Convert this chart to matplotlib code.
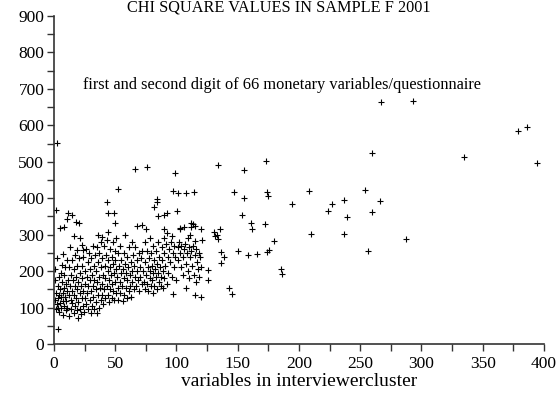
import matplotlib
matplotlib.use("Agg")
import matplotlib.pyplot as plt
from matplotlib.ticker import MultipleLocator

plt.rcParams['font.family'] = ['Liberation Serif', 'DejaVu Serif']

# chi square values per interviewer: (variables in cluster, chi square)
low_vars = [
    (1.6, 368), (3.6, 42), (4.9, 318), (8.5, 321), (2.7, 235), (6.3, 216), (9, 212), (7.7, 248),
    (11.7, 360), (10.4, 344), (0.5, 205), (1, 175), (1, 120), (1.5, 95), (2, 140), (2.5, 110),
    (3, 160), (3, 125), (3.5, 100), (4, 185), (4, 135), (4.5, 88), (5, 150), (5, 112), (5.5, 195),
    (6, 128), (6, 98), (6.5, 170), (7, 140), (7, 80), (7.5, 118), (8, 155), (8, 105), (8.5, 190),
    (9, 130), (9.5, 92), (10, 165), (10, 118), (10.5, 145), (11, 230), (11, 100), (11.5, 175),
    (12, 135), (12, 78),
]

mid_vars = [
    (14.5, 355), (18, 335), (20.8, 332), (16.7, 296), (21.3, 292), (13, 266), (19, 257), (22.7, 271),
    (24, 259), (12.5, 210), (13, 160), (13.5, 120), (14, 190), (14, 95), (14.5, 145), (15, 230),
    (15, 112), (15.5, 175), (16, 85), (16, 135), (16.5, 205), (17, 160), (17, 105), (17.5, 245),
    (18, 125), (18, 185), (18.5, 92), (19, 150), (19, 215), (19.5, 72), (20, 170), (20, 115),
    (20.5, 235), (21, 140), (21, 95), (21.5, 195), (22, 160), (22, 82), (22.5, 125), (23, 215),
    (23, 180), (23.5, 105), (24, 145), (24, 240), (24.5, 88), (25, 165), (25, 125), (25, 200),
    (35.8, 298), (39, 294), (26, 260), (26.5, 110), (27, 185), (27, 140), (27.5, 225), (28, 95),
    (28, 160), (28.5, 250), (29, 120), (29, 205), (29.5, 175), (30, 85), (30, 145), (30.5, 235),
    (31, 190), (31, 105), (31.5, 160), (32, 270), (32, 130), (32.5, 215), (33, 95), (33, 175),
    (33.5, 245), (34, 150), (34, 115), (34.5, 200), (35, 85), (35, 265), (35.5, 170), (36, 135),
    (36, 225), (36.5, 100), (37, 185), (37, 250), (37.5, 155), (38, 120), (38, 210), (38.5, 280),
    (39, 165), (39, 135), (39.5, 235), (40, 190), (40, 110),
]

upper_vars = [
    (43, 389), (48.6, 359), (43.7, 359), (50, 332), (44, 307), (40.5, 270), (41, 150), (41.5, 215),
    (42, 125), (42, 180), (42.5, 245), (43, 160), (43.5, 285), (44, 200), (44, 135), (44.5, 230),
    (45, 115), (45, 175), (45.5, 260), (46, 150), (46, 210), (46.5, 190), (47, 125), (47, 240),
    (47.5, 165), (48, 220), (48, 280), (48.5, 145), (49, 195), (49, 120), (49.5, 255), (50, 170),
    (50, 230), (50.5, 140), (51, 205), (51, 290), (51.5, 185), (52, 155), (52, 250), (52.5, 120),
    (53, 215), (53.5, 170), (54, 270), (54, 140), (54.5, 195), (55, 230),
    (55.5, 160), (56, 118), (56.5, 205), (57, 250), (57, 180), (57.5, 135), (58, 300), (58, 220),
    (58.5, 155), (59, 195), (59.5, 125), (60, 240), (60, 175), (60.5, 210), (61, 145), (61.5, 265),
    (62, 190), (62, 160), (62.5, 225), (63, 130), (63.5, 280), (64, 200), (64, 170), (64.5, 245),
    (65, 150), (65.5, 215), (66, 185), (66.5, 265), (67, 160), (67.5, 230), (68, 323), (68, 200),
    (68.5, 175), (69, 250), (69.5, 145), (70, 210), (70.5, 185), (71, 235), (71.5, 165), (72, 327),
    (72, 255),
]

high_vars = [
    (75.4, 316), (82, 377), (84, 389), (84.7, 350), (89.6, 353), (92, 359), (89.6, 316), (92.3, 305),
    (96.4, 295), (89.5, 290), (73, 200), (73.5, 170), (74, 280), (74, 150), (74.5, 225), (75, 190),
    (76, 255), (76, 165), (76.5, 210), (77, 145), (77.5, 235), (78, 180), (78, 290), (78.5, 200),
    (79, 160), (79.5, 250), (80, 215), (80, 175), (80.5, 140), (81, 270), (81, 195), (82, 230),
    (82, 160), (82.5, 205), (83, 185), (83.5, 255), (84, 150), (84.5, 220), (85, 280), (85, 195),
    (85.5, 170), (86, 240), (86.5, 210), (87, 160), (87.5, 185), (88, 265), (88, 230), (89, 200),
    (89, 155), (90, 250), (90, 180), (91, 215), (91.5, 275), (92, 165), (93, 240), (93, 195),
    (94, 260), (95, 225), (95.5, 280), (96, 185), (97, 250), (97, 138), (98, 270), (98, 210),
    (99, 240), (99.5, 175),
    (100.5, 365), (103, 316), (102.6, 319), (112, 332), (114.8, 325), (113.5, 329), (112, 320),
    (120, 316), (111, 298), (115, 283), (120.8, 285), (130.6, 307), (133, 298), (135.5, 316),
    (131.7, 296), (134, 287), (136, 253), (138.5, 238), (136, 223), (125.7, 203), (125.7, 175),
    (107.4, 155), (115, 135), (119.7, 130), (143, 155), (145.4, 136), (101, 265), (101.5, 230),
    (102, 280), (103, 250), (104, 270), (104, 210), (105, 240), (105.5, 190), (106, 260), (107, 275),
    (108, 220), (108.5, 250), (109, 200), (110, 265), (110, 180), (111, 240), (112, 255), (113, 215),
    (113.5, 270), (114, 190), (115, 245), (116, 260), (116, 170), (117, 225), (117.5, 205), (118, 250),
    (118.5, 185), (119, 240), (120, 210), (106, 320), (109, 290),
]

sparse_vars = [
    (2.7, 551), (52.5, 425), (65.9, 481), (75.7, 485), (98.8, 468), (133.9, 491), (154.8, 477),
    (172.8, 502), (97.4, 421), (101.5, 413), (107.8, 413), (114.5, 417), (147.2, 418), (154.9, 400),
    (173.6, 418), (174.7, 406), (83.8, 397), (153.3, 355), (161, 332), (162, 316), (172, 330),
    (180, 282), (150.5, 255), (158.7, 245), (165.6, 246), (173.5, 253), (175.7, 257), (185.3, 207),
    (186, 192), (194, 384), (208, 420), (227, 384), (224, 365), (237, 395), (239, 348), (260, 363),
    (266, 393), (210, 302), (237, 302), (287, 287), (256, 254), (260, 525), (266.7, 663),
    (292.8, 667), (335, 512), (378.8, 584), (386, 595), (394.3, 496), (254, 423),
]

points = low_vars + mid_vars + upper_vars + high_vars + sparse_vars
xs = [p[0] for p in points]
ys = [p[1] for p in points]

fig = plt.figure(figsize=(5.6, 4.0), dpi=100)
ax = fig.add_axes([0.0964, 0.14, 0.875, 0.82])

ax.scatter(xs, ys, marker='+', s=22, linewidths=0.8, color='black')

ax.set_xlim(0, 400)
ax.set_ylim(0, 900)
ax.xaxis.set_major_locator(MultipleLocator(50))
ax.xaxis.set_minor_locator(MultipleLocator(25))
ax.yaxis.set_major_locator(MultipleLocator(100))
ax.yaxis.set_minor_locator(MultipleLocator(50))
ax.tick_params(which='both', direction='out', length=5, width=1.0, color='#333333',
               labelsize=12.5)
ax.tick_params(axis='x', pad=4)
ax.tick_params(axis='y', pad=2)

for side in ('top', 'right'):
    ax.spines[side].set_visible(False)
for side in ('left', 'bottom'):
    ax.spines[side].set_linewidth(1.2)
    ax.spines[side].set_color('#333333')

ax.set_xlabel('variables in interviewercluster', fontsize=14, labelpad=0)
fig.text(0.498, 0.98, 'CHI SQUARE VALUES IN SAMPLE F 2001', ha='center', va='center', fontsize=11.7)
ax.text(0.465, 0.79, 'first and second digit of 66 monetary variables/questionnaire',
        transform=ax.transAxes, ha='center', va='center', fontsize=11.8)

fig.savefig('out.png', dpi=100)
